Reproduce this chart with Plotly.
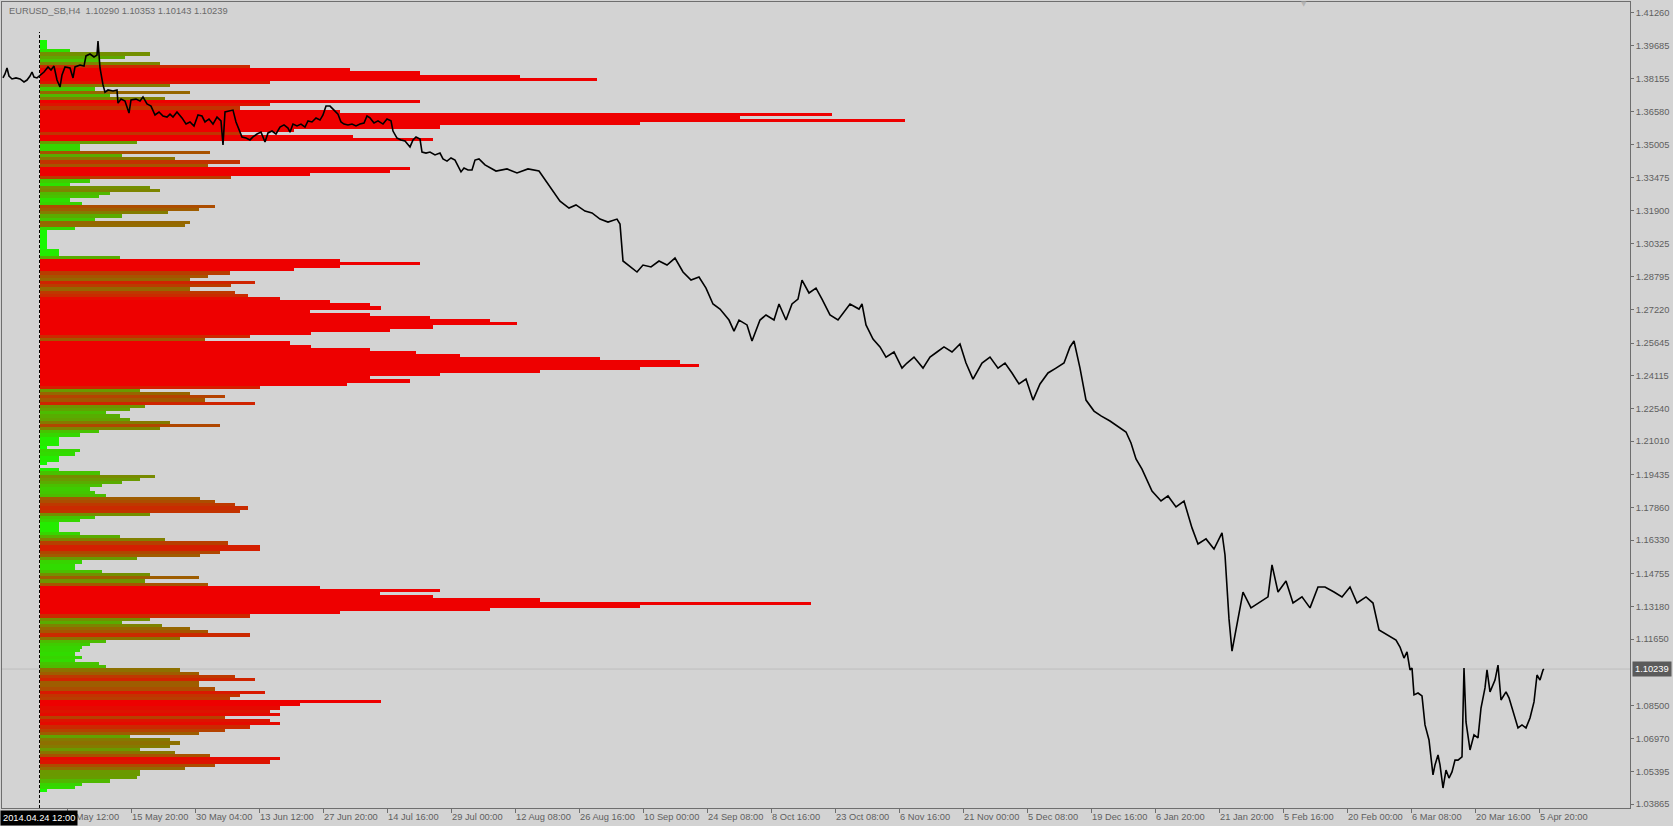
import plotly.graph_objects as go

# ---------------- data ----------------
# price line (H4 closes), bar index counted from the left edge of the chart
bar_index = [1,3,5,7,10,14,18,22,25,28,30,32,35,38,42,46,49,52,55,58,60,63,68,71,73,78,82,84,88,92,95,96,98,101,103,106,111,115,116,119,123,127,129,134,138,141,145,149,153,157,161,165,168,171,175,180,184,188,192,196,200,203,207,211,215,219,221,223,227,231,234,237,240,244,248,251,255,259,263,266,270,274,278,282,286,288,291,295,299,303,306,310,314,318,321,324,328,332,336,339,342,346,350,354,358,362,365,368,372,376,381,385,389,391,395,399,403,408,411,414,418,420,424,428,433,438,441,445,449,453,456,459,462,466,470,473,477,
             483,494,505,515,526,537,544,551,558,567,574,583,590,598,606,615,618,621,628,635,641,649,657,665,673,681,689,697,704,711,718,727,732,737,745,750,758,764,772,777,784,790,796,800,807,814,820,828,836,841,848,857,860,864,871,878,884,892,900,905,912,921,928,935,942,950,958,964,971,980,988,996,1003,1010,1017,1024,1031,1038,1046,1054,1062,1068,1072,1078,1084,1092,1099,1108,1116,1124,1129,1134,1140,1145,1150,1159,1166,1174,1182,1190,1196,1204,1212,1220,1223,1227,1230,1236,1241,1249,1257,1266,1270,1276,1284,1291,1300,1308,1316,1323,1332,1340,1348,1355,1364,1371,1377,1385,1394,
             1398,1402,1405,1408,1410,1412,1416,1420,1423,1427,1431,1433,1436,1438,1441,1444,1447,1450,1453,1456,1460,1462,1464,1468,1472,1476,1479,1483,1485,1488,1493,1496,1499,1504,1507,1511,1516,1520,1524,1528,1532,1535,1538,1541,1542]
close = [1.3817,1.3836,1.3864,1.3826,1.3812,1.3817,1.3812,1.3798,1.3807,1.3826,1.3845,1.3821,1.3817,1.3831,1.3845,1.3869,1.3854,1.3873,1.3807,1.3774,1.3831,1.3869,1.3864,1.3817,1.3869,1.3878,1.3873,1.3921,1.3930,1.3916,1.3925,1.3991,1.3864,1.3784,1.3750,1.3760,1.3755,1.3760,1.3698,1.3717,1.3708,1.3651,1.3713,1.3717,1.3708,1.3727,1.3694,1.3684,1.3642,1.3656,1.3637,1.3632,1.3646,1.3632,1.3656,1.3628,1.3599,1.3609,1.3590,1.3642,1.3637,1.3609,1.3623,1.3599,1.3632,1.3614,1.3500,1.3656,1.3661,1.3665,1.3609,1.3571,1.3538,1.3533,1.3524,1.3538,1.3552,1.3561,1.3514,1.3557,1.3566,1.3552,1.3585,1.3595,1.3580,1.3561,1.3599,1.3590,1.3599,1.3585,1.3614,1.3609,1.3628,1.3618,1.3642,1.3684,1.3684,1.3665,1.3646,1.3609,1.3599,1.3595,1.3599,1.3590,1.3599,1.3604,1.3637,1.3628,1.3604,1.3614,1.3599,1.3623,1.3614,1.3566,1.3533,1.3524,1.3519,1.3491,1.3524,1.3538,1.3528,1.3467,1.3462,1.3467,1.3453,1.3462,1.3434,1.3424,1.3439,1.3429,1.3401,1.3373,1.3391,1.3382,1.3382,1.3429,1.3434,
         1.3406,1.3377,1.3387,1.3368,1.3387,1.3377,1.3330,1.3278,1.3235,1.3202,1.3217,1.3188,1.3179,1.3150,1.3136,1.3150,1.3127,1.2952,1.2924,1.2900,1.2933,1.2924,1.2952,1.2933,1.2966,1.2900,1.2862,1.2876,1.2824,1.2749,1.2725,1.2673,1.2621,1.2673,1.2650,1.2574,1.2673,1.2697,1.2673,1.2749,1.2673,1.2749,1.2772,1.2862,1.2801,1.2824,1.2772,1.2697,1.2673,1.2706,1.2749,1.2725,1.2749,1.2650,1.2583,1.2546,1.2498,1.2522,1.2446,1.2470,1.2498,1.2446,1.2498,1.2522,1.2546,1.2522,1.2560,1.2470,1.2394,1.2470,1.2498,1.2446,1.2470,1.2423,1.2371,1.2394,1.2295,1.2371,1.2423,1.2446,1.2470,1.2546,1.2574,1.2446,1.2295,1.2243,1.2220,1.2196,1.2168,1.2144,1.2092,1.2017,1.1969,1.1917,1.1865,1.1818,1.1842,1.1790,1.1818,1.1691,1.1615,1.1639,1.1591,1.1667,1.1563,1.1261,1.1109,1.1261,1.1388,1.1313,1.1336,1.1365,1.1516,1.1388,1.1440,1.1336,1.1365,1.1313,1.1412,1.1412,1.1388,1.1365,1.1412,1.1336,1.1365,1.1336,1.1209,1.1185,1.1161,
         1.1128,1.1076,1.1105,1.1020,1.1029,1.0902,1.0911,1.0897,1.0760,1.0689,1.0524,1.0571,1.0618,1.0571,1.0462,1.0547,1.0509,1.0538,1.0594,1.0594,1.0609,1.1029,1.0774,1.0642,1.0713,1.0699,1.0840,1.0935,1.1020,1.0916,1.0972,1.1043,1.0878,1.0916,1.0888,1.0821,1.0746,1.0760,1.0746,1.0793,1.0869,1.0996,1.0972,1.1020,1.10239]

# volume profile (tick volume per price row), rows from the top level downward
profile_top = 1.3990
profile_step = 0.0015
profile_start_bar = 38
profile_volume = [7,7,7,30,110,85,60,120,210,310,
                  380,480,557,230,130,55,150,70,125,380,
                  230,200,300,792,700,865,600,400,254,200,
                  313,393,97,40,40,170,82,135,200,168,
                  370,350,270,191,50,30,110,120,70,59,
                  30,42,175,159,128,82,55,150,145,35,
                  7,7,7,7,7,7,19,19,80,300,
                  380,300,254,190,168,150,215,191,150,195,
                  208,240,290,330,341,270,330,390,450,477,
                  393,350,271,210,165,250,271,330,376,420,
                  560,640,659,600,500,400,330,370,307,220,
                  100,150,185,165,215,105,90,66,80,90,
                  130,180,120,59,40,19,19,19,7,40,
                  35,19,19,7,0,19,60,115,100,82,
                  62,50,55,66,160,175,195,208,200,110,
                  55,40,19,19,19,40,80,125,188,220,
                  220,180,160,97,42,35,35,62,110,159,
                  105,168,280,400,340,393,500,771,600,450,
                  300,210,110,82,122,150,168,210,140,66,
                  50,42,40,35,42,35,59,66,140,159,
                  195,215,159,159,175,225,200,190,341,260,
                  240,230,240,185,230,240,210,185,159,90,
                  130,140,130,100,135,170,240,230,175,145,
                  100,100,97,70,42,35,7]

price_ticks = [1.41260,1.39685,1.38155,1.36580,1.35005,1.33475,1.31900,1.30325,1.28795,1.27220,
               1.25645,1.24115,1.22540,1.21010,1.19435,1.17860,1.16330,1.14755,1.13180,1.11650,
               1.08500,1.06970,1.05395,1.03865]
time_tick_bars = [65,129,193,257,321,385,449,513,577,641,705,769,833,897,961,1025,1089,1153,1217,1281,1345,1409,1473,1537]
time_tick_text = ["1 May 12:00","15 May 20:00","30 May 04:00","13 Jun 12:00","27 Jun 20:00","14 Jul 16:00",
                  "29 Jul 00:00","12 Aug 08:00","26 Aug 16:00","10 Sep 00:00","24 Sep 08:00","8 Oct 16:00",
                  "23 Oct 08:00","6 Nov 16:00","21 Nov 00:00","5 Dec 08:00","19 Dec 16:00","6 Jan 20:00",
                  "21 Jan 20:00","5 Feb 16:00","20 Feb 00:00","6 Mar 08:00","20 Mar 16:00","5 Apr 20:00"]
symbol_title = "EURUSD_SB,H4  1.10290 1.10353 1.10143 1.10239"
profile_start_label = "2014.04.24 12:00"
last_price = close[-1]

# ---------------- figure ----------------
W, H = 1673, 826
ML, MR, MT, MB = 2, 43, 2, 18
FONT = "Liberation Sans"
TXT = "#5f5f5f"
AX = "#6e6e6e"
BG = "#d3d3d3"

levels = [profile_top - profile_step * i for i in range(len(profile_volume))]

fig = go.Figure()
fig.add_trace(go.Bar(
    orientation="h", y=levels, x=profile_volume, base=profile_start_bar,
    width=profile_step,
    marker=dict(color=profile_volume, colorscale=[[0, "#12ff00"], [1, "#ee0000"]],
                cmin=0, cmax=250, line=dict(width=0)),
    hoverinfo="skip", showlegend=False))
fig.add_trace(go.Scatter(
    x=bar_index, y=close, mode="lines",
    line=dict(color="#000000", width=1.6), hoverinfo="skip", showlegend=False))

plot_w = W - ML - MR
plot_h = H - MT - MB

# current price line
fig.add_shape(type="line", xref="paper", yref="y", x0=0, x1=1, y0=last_price, y1=last_price,
              line=dict(color="#bdbdbd", width=1), layer="below")
# profile start (dashed vertical)
fig.add_shape(type="line", xref="x", yref="paper", x0=profile_start_bar - 0.5, x1=profile_start_bar - 0.5,
              y0=0, y1=(H - MB - 32) / plot_h, line=dict(color="#000000", width=1, dash="3px,2px"))

annotations = [
    dict(text=symbol_title, xref="paper", yref="paper", x=5 / plot_w, y=1 - 9 / plot_h,
         xanchor="left", yanchor="middle", showarrow=False,
         font=dict(family=FONT, size=9.3, color="#6a6a6a")),
    dict(text=profile_start_label, xref="paper", yref="paper", x=-2 / plot_w, y=-9.5 / plot_h,
         xanchor="left", yanchor="middle", showarrow=False, bgcolor="#000000", borderpad=2,
         font=dict(family=FONT, size=9.3, color="#ffffff")),
    dict(text=f"{last_price:.5f}", xref="paper", yref="y", x=1 + 1.5 / plot_w, y=last_price,
         xanchor="left", yanchor="middle", showarrow=False, bgcolor="#5b5b5b", borderpad=2,
         font=dict(family=FONT, size=9.3, color="#ffffff")),
    dict(text="▼", xref="paper", yref="paper", x=(1304 - ML) / plot_w, y=1 - 2 / plot_h,
         xanchor="center", yanchor="middle", showarrow=False,
         font=dict(family="DejaVu Sans", size=7, color="#b4b4b4")),
]

fig.update_layout(
    width=W, height=H, margin=dict(l=ML, r=MR, t=MT, b=MB),
    paper_bgcolor=BG, plot_bgcolor=BG, bargap=0, showlegend=False,
    font=dict(family=FONT, size=9.3, color=TXT),
    annotations=annotations,
    xaxis=dict(range=[0, plot_w], showgrid=False, zeroline=False, showline=True, mirror=True,
               linecolor=AX, linewidth=1, ticks="outside", ticklen=4, tickcolor=AX,
               tickvals=time_tick_bars, ticktext=time_tick_text, tickangle=0,
               ticklabelposition="outside right", tickfont=dict(family=FONT, size=9.3, color=TXT),
               fixedrange=True),
    yaxis=dict(range=[1.03676, 1.41757], side="right", showgrid=False, zeroline=False,
               showline=True, mirror=True, linecolor=AX, linewidth=1, ticks="outside",
               ticklen=3, tickcolor=AX, tickvals=price_ticks,
               ticktext=[f"{v:.5f}" for v in price_ticks],
               tickfont=dict(family=FONT, size=9.3, color=TXT), fixedrange=True),
)

fig.write_html("out.html", config={"displayModeBar": False},
               post_script="document.body.style.margin='0';document.body.style.background='#d3d3d3';")
